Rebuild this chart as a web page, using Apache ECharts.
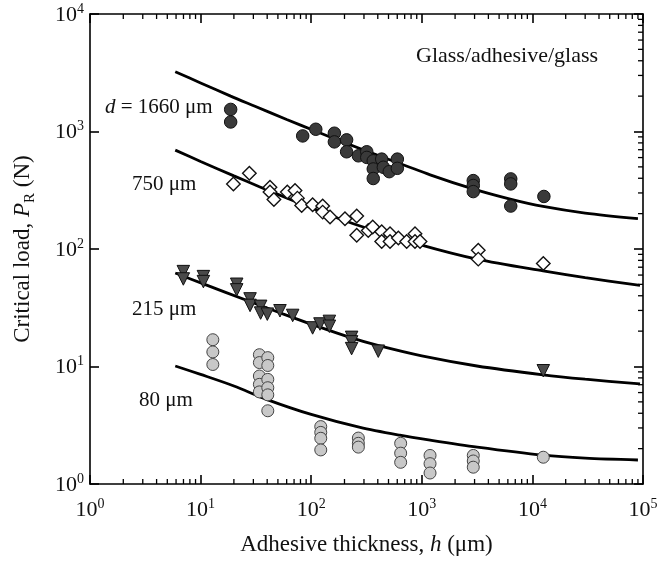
<!DOCTYPE html>
<html>
<head>
<meta charset="utf-8">
<script src="https://cdn.jsdelivr.net/npm/echarts@6/dist/echarts.min.js"></script>
<style>
  html, body { margin: 0; padding: 0; background: #fff; }
  #main { width: 662px; height: 561px; }
</style>
</head>
<body>
<div id="main"></div>
<script>
// adhesive thickness h (um) and critical load P_R (N)
const h1660 = [18.7, 18.7, 83.8, 110, 162, 162, 209, 209, 267, 318, 318, 364, 364, 364, 434, 449, 508, 601, 601, 2920, 2920, 2920, 6370, 6370, 6370, 12700];
const p1660 = [1542, 1205, 917, 1045, 967, 816, 849, 672, 621, 672, 602, 563, 480, 398, 582, 496, 455, 582, 486, 382, 347, 308, 395, 358, 232, 280];

const h750 = [19.8, 27.6, 42.4, 42.4, 46, 60.8, 71.4, 75, 82, 103, 127, 127, 148, 202, 258, 258, 328, 360, 434, 434, 516, 516, 614, 730, 868, 868, 964, 3240, 3240, 12550];
const p750 = [358, 441, 336, 305, 264, 305, 314, 271, 234, 238, 232, 206, 187, 181, 191, 131, 144, 154, 140, 116, 135, 116, 124, 116, 135, 116, 116, 97.7, 82, 75.4];

const h215 = [6.98, 6.98, 10.6, 10.6, 21.2, 21.2, 28, 28, 34.9, 34.9, 40.1, 52.2, 68, 103, 120, 146, 146, 232, 232, 232, 404, 12550];
const p215 = [64.2, 55.6, 58.2, 52.8, 50.1, 44.9, 37.6, 33.1, 32.5, 28.5, 27.9, 29.8, 27.2, 21.3, 23, 24.2, 22, 17.7, 16.2, 14.2, 13.5, 9.2];

const h80 = [12.9, 12.9, 12.9, 34, 34, 34, 34, 34, 40.5, 40.5, 40.5, 40.5, 40.5, 40.5, 122, 122, 122, 122, 267, 267, 267, 644, 644, 644, 1187, 1187, 1187, 2920, 2920, 2920, 12550];
const p80 = [16.9, 13.3, 10.4, 12.6, 10.8, 8.3, 7.05, 6.08, 11.9, 10.2, 7.77, 6.6, 5.74, 4.2, 3.08, 2.75, 2.45, 1.95, 2.46, 2.22, 2.06, 2.22, 1.83, 1.53, 1.75, 1.49, 1.24, 1.75, 1.57, 1.39, 1.69];

// fitted curves
const fitH1660 = [5.9, 10, 18.7, 31, 60, 110, 200, 400, 1190, 2900, 6300, 12500, 30000, 90000];
const fitP1660 = [3230, 2590, 2000, 1640, 1265, 1005, 805, 628, 428, 325, 266, 230, 202, 181];
const fitH750 = [5.9, 10, 20, 34, 70, 150, 277, 960, 3150, 12500, 30000, 94000];
const fitP750 = [694, 556, 419, 339, 256, 193, 157, 109, 82, 65, 57, 49];
const fitH215 = [5.9, 10.6, 26, 52, 103, 232, 400, 1000, 3150, 12500, 30000, 94000];
const fitP215 = [62.4, 50.5, 36.6, 28.7, 22.7, 17.5, 15.1, 12.3, 10.1, 8.5, 7.8, 7.1];
const fitH80 = [5.9, 10, 20, 40, 100, 277, 633, 1190, 3170, 12500, 30000, 90000];
const fitP80 = [10.1, 8.57, 6.83, 5.23, 3.91, 3.03, 2.6, 2.36, 2.06, 1.76, 1.66, 1.6];

const xDecades = [1, 10, 100, 1000, 10000, 100000];
const yDecades = [1, 10, 100, 1000, 10000];

const serif = 'Liberation Serif';

function pairs(xs, ys) {
    return xs.map(function (v, i) { return [v, ys[i]]; });
}

// minor log ticks 2..9 inside each decade
function minors(decades) {
    const out = [];
    for (let i = 0; i < decades.length - 1; i++) {
        for (let m = 2; m <= 9; m++) out.push(m * decades[i]);
    }
    return out;
}

function powLabel(v) {
    return '{b|10}{s|' + Math.round(Math.log10(v)) + '}';
}

const labelRich = {
    b: { fontFamily: serif, fontSize: 22, color: '#111', lineHeight: 24, verticalAlign: 'bottom' },
    s: { fontFamily: serif, fontSize: 14, color: '#111', lineHeight: 14, verticalAlign: 'top' }
};

const lineStyle = { color: '#000', width: 1.6 };

// small tick marks drawn as thin rect symbols just inside the frame
function tickSeries(data, size, offset) {
    return {
        type: 'scatter', data: data, symbol: 'rect', symbolSize: size, symbolOffset: offset,
        clip: false, silent: true, z: 1,
        itemStyle: { color: '#000', opacity: 1 }
    };
}

const minX = minors(xDecades);
const minY = minors(yDecades);

let chart = echarts.init(document.getElementById('main'));

chart.setOption({
    animation: false,
    backgroundColor: '#fff',
    grid: { left: 90, right: 19, top: 14, bottom: 74 },
    xAxis: [{
        type: 'log', min: 1, max: 100000, logBase: 10,
        axisLine: { lineStyle: lineStyle },
        axisTick: { inside: true, length: 9, lineStyle: lineStyle },
        splitLine: { show: false },
        axisLabel: { formatter: powLabel, rich: labelRich, margin: 13 },
        name: '{t|Adhesive thickness, }{i|h}{t| (μm)}',
        nameLocation: 'middle', nameGap: 49,
        nameTextStyle: {
            rich: {
                t: { fontFamily: serif, fontSize: 23, color: '#111' },
                i: { fontFamily: serif, fontSize: 23, color: '#111', fontStyle: 'italic' }
            }
        }
    }, {
        type: 'log', min: 1, max: 100000, logBase: 10, position: 'top',
        axisLine: { lineStyle: lineStyle },
        axisTick: { inside: true, length: 9, lineStyle: lineStyle },
        splitLine: { show: false },
        axisLabel: { show: false }
    }],
    yAxis: [{
        type: 'log', min: 1, max: 10000, logBase: 10,
        axisLine: { lineStyle: lineStyle },
        axisTick: { inside: true, length: 9, lineStyle: lineStyle },
        splitLine: { show: false },
        axisLabel: { formatter: powLabel, rich: labelRich, margin: 6 },
        name: '{t|Critical load, }{i|P}{sub|R}{t| (N)}',
        nameLocation: 'middle', nameGap: 56,
        nameTextStyle: {
            rich: {
                t: { fontFamily: serif, fontSize: 23, color: '#111', lineHeight: 26, verticalAlign: 'bottom' },
                i: { fontFamily: serif, fontSize: 23, color: '#111', fontStyle: 'italic', lineHeight: 26, verticalAlign: 'bottom' },
                sub: { fontFamily: serif, fontSize: 15, color: '#111', lineHeight: 16, verticalAlign: 'bottom', padding: [0, 0, -4, 0] }
            }
        }
    }, {
        type: 'log', min: 1, max: 10000, logBase: 10, position: 'right',
        axisLine: { lineStyle: lineStyle },
        axisTick: { inside: true, length: 9, lineStyle: lineStyle },
        splitLine: { show: false },
        axisLabel: { show: false }
    }],
    graphic: [
        { type: 'text', x: 416, y: 56, style: { text: 'Glass/adhesive/glass', fontFamily: serif, fontSize: 22, fill: '#111', verticalAlign: 'middle' } },
        { type: 'text', x: 105, y: 107, style: { text: '{i|d} = 1660 μm', fontFamily: serif, fontSize: 21, fill: '#111', verticalAlign: 'middle',
            rich: { i: { fontFamily: serif, fontSize: 21, fontStyle: 'italic', fill: '#111' } } } },
        { type: 'text', x: 132, y: 184, style: { text: '750 μm', fontFamily: serif, fontSize: 21, fill: '#111', verticalAlign: 'middle' } },
        { type: 'text', x: 132, y: 309, style: { text: '215 μm', fontFamily: serif, fontSize: 21, fill: '#111', verticalAlign: 'middle' } },
        { type: 'text', x: 139, y: 400, style: { text: '80 μm', fontFamily: serif, fontSize: 21, fill: '#111', verticalAlign: 'middle' } }
    ],
    series: [
        tickSeries(minX.map(function (v) { return [v, 1]; }), [1.3, 5], [0, -2.5]),
        tickSeries(minX.map(function (v) { return [v, 10000]; }), [1.3, 5], [0, 2.5]),
        tickSeries(minY.map(function (v) { return [100000, v]; }), [5, 1.3], [-2.5, 0]),
        { type: 'line', data: pairs(fitH1660, fitP1660), smooth: 0.3, showSymbol: false, lineStyle: { color: '#000', width: 2.8 }, z: 2 },
        { type: 'line', data: pairs(fitH750, fitP750), smooth: 0.3, showSymbol: false, lineStyle: { color: '#000', width: 2.8 }, z: 2 },
        { type: 'line', data: pairs(fitH215, fitP215), smooth: 0.3, showSymbol: false, lineStyle: { color: '#000', width: 2.8 }, z: 2 },
        { type: 'line', data: pairs(fitH80, fitP80), smooth: 0.3, showSymbol: false, lineStyle: { color: '#000', width: 2.8 }, z: 2 },
        {
            type: 'scatter', data: pairs(h1660, p1660), symbol: 'circle', symbolSize: 12.5, z: 3,
            itemStyle: { color: '#3a3a3a', borderColor: '#111', borderWidth: 1, opacity: 1 }
        },
        {
            type: 'scatter', data: pairs(h750, p750), symbol: 'diamond', symbolSize: 13.5, z: 3,
            itemStyle: { color: '#fff', borderColor: '#111', borderWidth: 1.4, opacity: 1 }
        },
        {
            type: 'scatter', data: pairs(h215, p215), symbol: 'triangle', symbolRotate: 180, symbolSize: 12.5, z: 3,
            itemStyle: { color: '#4a4a4a', borderColor: '#111', borderWidth: 1, opacity: 1 }
        },
        {
            type: 'scatter', data: pairs(h80, p80), symbol: 'circle', symbolSize: 12, z: 3,
            itemStyle: { color: '#c8c8c8', borderColor: '#444', borderWidth: 1, opacity: 1 }
        }
    ]
});
</script>
</body>
</html>
